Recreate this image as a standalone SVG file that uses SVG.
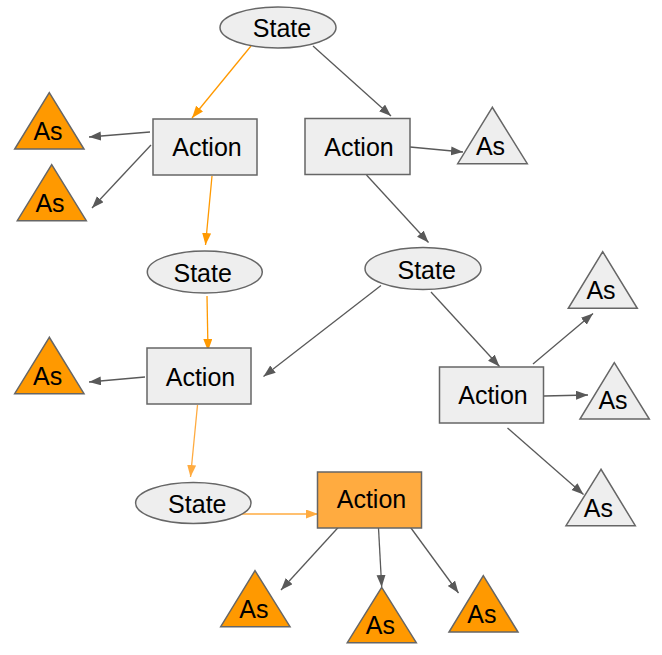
<svg xmlns="http://www.w3.org/2000/svg" width="662" height="655" viewBox="0 0 662 655">
<style>
.n{fill:#eeeeee;stroke:#666666;stroke-width:1.5}
.o{fill:#ff9900;stroke:#666666;stroke-width:1.5}
.oa{fill:#ffab40;stroke:#666666;stroke-width:1.5}
text{font-family:"Liberation Sans",Arial,sans-serif;font-size:25px;fill:#000;text-anchor:middle}
.e{fill:none;stroke:#595959;stroke-width:1.3}
.eo{fill:none;stroke:#ff9900;stroke-width:1.3}
.el{fill:none;stroke:#ffab40;stroke-width:1.3}
</style>
<defs>
<marker id="ad" markerUnits="userSpaceOnUse" markerWidth="13" markerHeight="10" refX="12" refY="4.5" orient="auto"><path d="M0,0 L12,4.5 L0,9 z" fill="#595959"/></marker>
<marker id="ao" markerUnits="userSpaceOnUse" markerWidth="13" markerHeight="10" refX="12" refY="4.5" orient="auto"><path d="M0,0 L12,4.5 L0,9 z" fill="#ff9900"/></marker>
<marker id="al" markerUnits="userSpaceOnUse" markerWidth="13" markerHeight="10" refX="12" refY="4.5" orient="auto"><path d="M0,0 L12,4.5 L0,9 z" fill="#ffab40"/></marker>
</defs>
<rect width="662" height="655" fill="#ffffff"/>
<g id="connectors">
<line class="eo" x1="251" y1="46" x2="192" y2="118" marker-end="url(#ao)"/>
<line class="e" x1="313" y1="46" x2="391" y2="116" marker-end="url(#ad)"/>
<line class="e" x1="150" y1="132" x2="89" y2="137" marker-end="url(#ad)"/>
<line class="e" x1="151" y1="145" x2="92" y2="208" marker-end="url(#ad)"/>
<line class="eo" x1="212" y1="176" x2="205.5" y2="245" marker-end="url(#ao)"/>
<line class="e" x1="410" y1="147" x2="463" y2="152" marker-end="url(#ad)"/>
<line class="e" x1="366.5" y1="175" x2="428.5" y2="242.5" marker-end="url(#ad)"/>
<line class="e" x1="381" y1="285.5" x2="263.5" y2="376.5" marker-end="url(#ad)"/>
<line class="e" x1="431" y1="292" x2="499.5" y2="366.5" marker-end="url(#ad)"/>
<line class="e" x1="533" y1="364" x2="593" y2="313.5" marker-end="url(#ad)"/>
<line class="e" x1="544" y1="396" x2="588" y2="395" marker-end="url(#ad)"/>
<line class="e" x1="507.5" y1="428" x2="583.5" y2="494.5" marker-end="url(#ad)"/>
<line class="eo" x1="207" y1="296" x2="208" y2="351" marker-end="url(#ao)"/>
<line class="e" x1="145" y1="377" x2="89" y2="382" marker-end="url(#ad)"/>
<line class="el" x1="197.5" y1="405" x2="190.5" y2="477" marker-end="url(#al)"/>
<line class="el" x1="238.5" y1="514" x2="318" y2="514" marker-end="url(#al)"/>
<line class="e" x1="339.5" y1="526" x2="281" y2="590" marker-end="url(#ad)"/>
<line class="e" x1="378.5" y1="528" x2="381.7" y2="587" marker-end="url(#ad)"/>
<line class="e" x1="409.5" y1="526" x2="458.5" y2="593" marker-end="url(#ad)"/>
</g>
<g id="state1"><ellipse class="n" cx="278" cy="27.5" rx="58" ry="20.5"/><text x="282" y="37">State</text></g>
<g id="action1"><rect class="n" x="153" y="119" width="104" height="56"/><text x="207" y="156">Action</text></g>
<g id="action2"><rect class="n" x="305" y="118.5" width="105" height="56"/><text x="359" y="155.5">Action</text></g>
<g id="as1"><polygon class="o" points="49.3,92.7 14.7,149 84,149"/><text x="48" y="140">As</text></g>
<g id="as2"><polygon class="o" points="51.7,164.7 17.3,220.7 86.3,220.7"/><text x="50" y="211.7">As</text></g>
<g id="as3"><polygon class="n" points="492.3,107.3 457.7,163.7 527.3,163.7"/><text x="490.5" y="155">As</text></g>
<g id="state2"><ellipse class="n" cx="204.8" cy="272" rx="57.5" ry="21"/><text x="202.7" y="282.3">State</text></g>
<g id="state3"><ellipse class="n" cx="423" cy="268.5" rx="58" ry="21"/><text x="426.7" y="279">State</text></g>
<g id="action3"><rect class="n" x="147" y="348" width="104" height="56"/><text x="200.5" y="385.7">Action</text></g>
<g id="as4"><polygon class="o" points="49.3,337.3 14.7,393.7 84,393.7"/><text x="47.7" y="385">As</text></g>
<g id="action4"><rect class="n" x="439.5" y="367" width="104" height="56"/><text x="493" y="404">Action</text></g>
<g id="as5"><polygon class="n" points="602.7,251.7 568.3,308.3 637.3,308.3"/><text x="601" y="299.3">As</text></g>
<g id="as6"><polygon class="n" points="614.3,362.7 580,419 649.3,419"/><text x="613" y="409.3">As</text></g>
<g id="as7"><polygon class="n" points="601,469.3 566,525.7 635.3,525.7"/><text x="598.3" y="516.7">As</text></g>
<g id="state4"><ellipse class="n" cx="193.3" cy="503" rx="57.7" ry="20.5"/><text x="197.3" y="512.7">State</text></g>
<g id="action5"><rect class="oa" x="317.5" y="472" width="104" height="56"/><text x="371.5" y="508.3">Action</text></g>
<g id="as8"><polygon class="o" points="255,570.7 220.7,626.7 290,626.7"/><text x="253.8" y="617.7">As</text></g>
<g id="as9"><polygon class="o" points="381.7,587.3 347.3,642.7 416.3,642.7"/><text x="380.3" y="634.3">As</text></g>
<g id="as10"><polygon class="o" points="483.3,575.7 449,632 518,632"/><text x="481.8" y="623.3">As</text></g>
</svg>
